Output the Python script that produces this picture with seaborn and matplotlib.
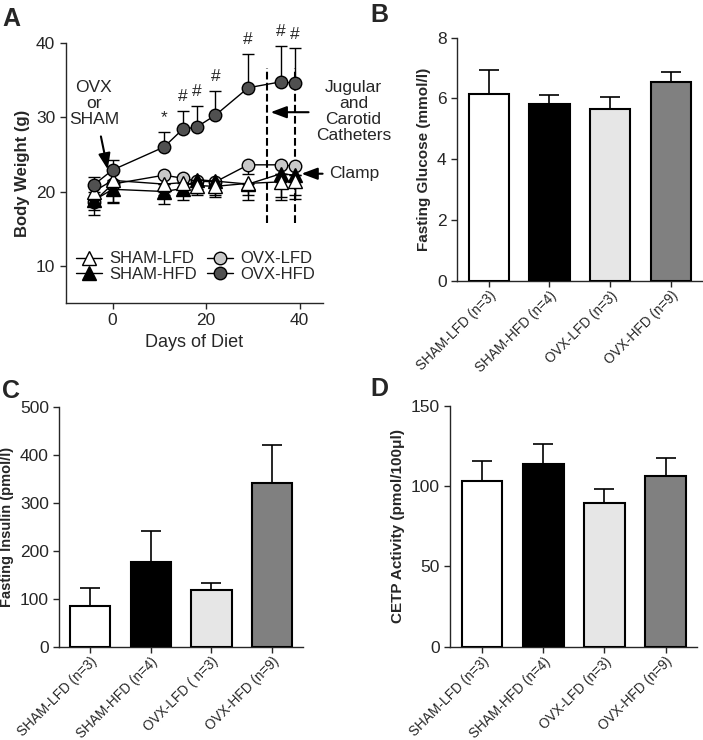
import matplotlib
matplotlib.use("Agg")
import matplotlib.pyplot as plt
import numpy as np
import pandas as pd
import seaborn as sns

# panel A: body weight over days of diet
days = [-4, 0, 11, 15, 18, 22, 29, 36, 39]
sham_lfd = [20.0, 21.5, 21.0, 21.2, 20.8, 20.7, 21.1, 21.3, 21.4]
sham_lfd_low = [19.0, 18.6, 19.5, 19.8, 19.5, 19.2, 18.8, 18.8, 19.0]
sham_hfd = [18.8, 20.3, 20.0, 20.4, 21.6, 21.4, 21.0, 22.4, 22.2]
sham_hfd_low = [17.5, 18.4, 18.3, 18.9, 19.8, 19.5, 19.5, 19.2, 19.5]
ovx_lfd = [18.6, 21.0, 22.2, 21.8, 21.4, 21.3, 23.6, 23.6, 23.4]
ovx_lfd_low = [16.8, 19.5, 21.0, 20.6, 20.3, 20.2, 22.4, 22.4, 22.2]
ovx_hfd = [20.9, 22.9, 26.0, 28.4, 28.7, 30.3, 34.0, 34.8, 34.6]
ovx_hfd_high = [22.0, 24.2, 28.0, 30.9, 31.6, 33.6, 38.6, 39.6, 39.3]
sig_marks = ["", "", "*", "#", "#", "#", "#", "#", "#"]

# panels B-D: bar charts
groups = ["SHAM-LFD (n=3)", "SHAM-HFD (n=4)", "OVX-LFD (n=3)", "OVX-HFD (n=9)"]
groups_c = ["SHAM-LFD (n=3)", "SHAM-HFD (n=4)", "OVX-LFD ( n=3)", "OVX-HFD (n=9)"]
bar_colors = ["#ffffff", "#000000", "#e6e6e6", "#808080"]
glucose = [6.14, 5.81, 5.66, 6.54]
glucose_err = [0.79, 0.30, 0.38, 0.34]
insulin = [84, 176, 118, 342]
insulin_err = [39, 66, 16, 80]
cetp = [103.2, 114.0, 89.5, 106.1]
cetp_err = [12.3, 12.5, 8.6, 11.4]

sns.set_theme(style="ticks")
plt.rcParams["font.family"] = ["Liberation Sans", "DejaVu Sans"]
plt.rcParams["axes.linewidth"] = 1.0
plt.rcParams["xtick.major.width"] = 1.0
plt.rcParams["ytick.major.width"] = 1.0
plt.rcParams["xtick.major.size"] = 4
plt.rcParams["ytick.major.size"] = 4

fig = plt.figure(figsize=(7.03, 7.4), dpi=100)

# ---------- panel A ----------
axA = fig.add_axes([0.0935, 0.591, 0.366, 0.3505])
series = [
    ("SHAM-LFD", sham_lfd, sham_lfd_low, "^", "white", -1),
    ("SHAM-HFD", sham_hfd, sham_hfd_low, "^", "black", -1),
    ("OVX-LFD", ovx_lfd, ovx_lfd_low, "o", "#c8c8c8", -1),
    ("OVX-HFD", ovx_hfd, ovx_hfd_high, "o", "#505050", 1),
]
zorders = {"OVX-LFD": 3, "SHAM-HFD": 4, "SHAM-LFD": 5, "OVX-HFD": 6}
for name, vals, bound, mk, fc, side in series:
    vals = np.array(vals)
    bound = np.array(bound)
    err = np.abs(bound - vals)
    zero = np.zeros_like(err)
    yerr = [zero, err] if side > 0 else [err, zero]
    axA.errorbar(days, vals, yerr=yerr, fmt="none", ecolor="black",
                 elinewidth=1.0, capsize=4, capthick=1.0, zorder=zorders[name] - 0.5)
    sns.lineplot(x=days, y=vals, ax=axA, color="black", linewidth=1.0,
                 marker=mk, markersize=9 if mk == "o" else 9.5,
                 markerfacecolor=fc, markeredgecolor="black", markeredgewidth=1.0,
                 label=name, zorder=zorders[name])

for d, top, m in zip(days, ovx_hfd_high, sig_marks):
    if m:
        axA.annotate(m, (d, top), xytext=(0, 5), textcoords="offset points",
                     ha="center", va="bottom", fontsize=12.5, annotation_clip=False)

axA.plot([33, 33], [15.8, 36.6], ls="--", color="black", lw=1.5, zorder=2)
axA.plot([39, 39], [15.8, 36.6], ls="--", color="black", lw=1.5, zorder=2)

arrow = dict(arrowstyle="-|>,head_length=0.8,head_width=0.3", color="black", lw=1.5)
axA.annotate("", xy=(-0.9, 22.6), xytext=(-2.6, 27.8), arrowprops=arrow)
axA.text(-4.0, 31.9, "OVX\nor\nSHAM", ha="center", va="center", fontsize=12.5, linespacing=1.1)
axA.annotate("", xy=(33.2, 30.7), xytext=(42.5, 30.7), arrowprops=arrow,
             annotation_clip=False)
axA.text(51.5, 30.8, "Jugular\nand\nCarotid\nCatheters", ha="center", va="center",
         fontsize=12.5, linespacing=1.1, clip_on=False)
axA.annotate("", xy=(39.8, 22.4), xytext=(45.5, 22.4), arrowprops=arrow,
             annotation_clip=False)
axA.text(46.3, 22.4, "Clamp", ha="left", va="center", fontsize=12.5, clip_on=False)

axA.set_xlim(-10, 45)
axA.set_ylim(5, 40)
axA.set_xticks([0, 20, 40])
axA.set_yticks([10, 20, 30, 40])
axA.tick_params(labelsize=12.5)
axA.set_xlabel("Days of Diet", fontsize=13)
axA.set_ylabel("Body Weight (g)", fontsize=12, fontweight="bold")
axA.legend(ncol=2, loc="lower left", bbox_to_anchor=(0.0, 0.04), frameon=False,
           fontsize=12, handlelength=1.6, handletextpad=0.4, columnspacing=0.6,
           labelspacing=0.05, borderaxespad=0.2)
sns.despine(ax=axA)


def bar_panel(rect, labels, vals, errs, ylim, yticks, ylabel, xlim, ylsize):
    ax = fig.add_axes(rect)
    df = pd.DataFrame({"group": labels, "value": vals})
    sns.barplot(data=df, x="group", y="value", hue="group", palette=bar_colors,
                legend=False, width=0.66, edgecolor="black", linewidth=1.5,
                saturation=1, ax=ax, zorder=3)
    ax.errorbar(range(len(vals)), vals, yerr=[np.zeros(len(errs)), errs], fmt="none",
                ecolor="black", elinewidth=1.2, capsize=7, capthick=1.2, zorder=2)
    ax.set_xlim(*xlim)
    ax.set_ylim(*ylim)
    ax.set_yticks(yticks)
    ax.set_xlabel("")
    ax.set_ylabel(ylabel, fontsize=ylsize, fontweight="bold")
    ax.tick_params(axis="y", labelsize=12.5)
    ax.tick_params(axis="x", labelsize=9.8, pad=1.5)
    plt.setp(ax.get_xticklabels(), rotation=45, ha="right", rotation_mode="anchor")
    sns.despine(ax=ax)
    return ax


bar_panel([0.650, 0.6207, 0.348, 0.3284], groups, glucose, glucose_err,
          (0, 8), [0, 2, 4, 6, 8], "Fasting Glucose (mmol/l)", (-0.52, 3.5), 11)
bar_panel([0.0844, 0.1261, 0.3462, 0.3236], groups_c, insulin, insulin_err,
          (0, 500), [0, 100, 200, 300, 400, 500], "Fasting Insulin (pmol/l)", (-0.5, 3.5), 10.5)
bar_panel([0.640, 0.1261, 0.351, 0.3253], groups, cetp, cetp_err,
          (0, 150), [0, 50, 100, 150], "CETP Activity (pmol/100\u03bcl)", (-0.53, 3.51), 11)

for x, y, s in [(0.003, 0.99, "A"), (0.527, 0.996, "B"), (0.003, 0.488, "C"), (0.527, 0.49, "D")]:
    fig.text(x, y, s, fontsize=18, fontweight="bold", va="top", ha="left")

fig.savefig("out.png", dpi=100)
